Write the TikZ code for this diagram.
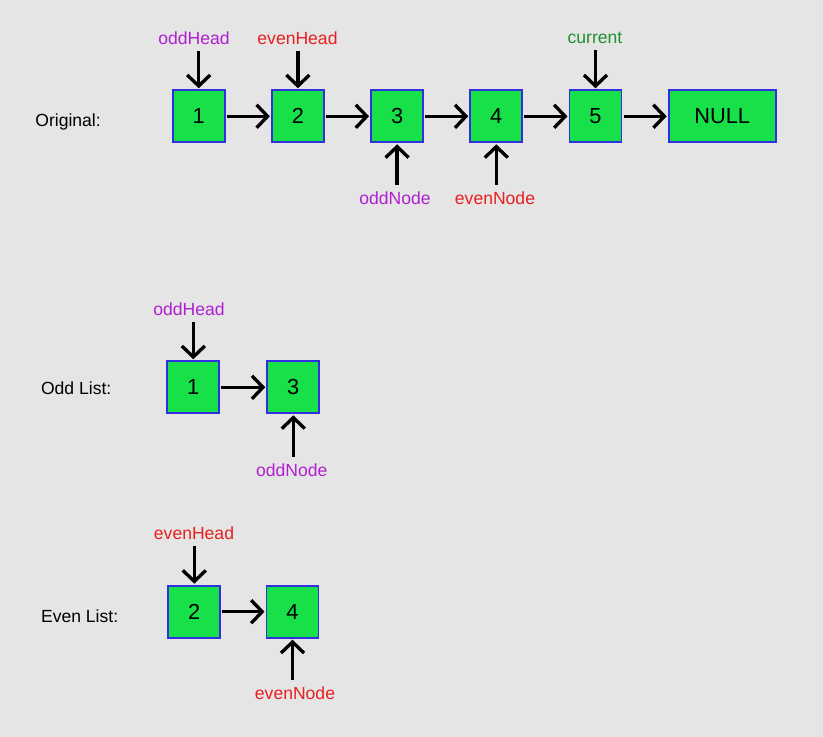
\documentclass[tikz,border=0pt]{standalone}
\usepackage{fontspec}
\setmainfont{Liberation Sans}
\usetikzlibrary{arrows.meta,positioning}
\definecolor{bgGray}{HTML}{E5E5E5}
\definecolor{boxGreen}{HTML}{18E048}
\definecolor{boxBlue}{HTML}{3030E0}
\definecolor{ptrPurple}{HTML}{B020D0}
\definecolor{ptrRed}{HTML}{E82020}
\definecolor{ptrGreen}{HTML}{209030}
\begin{document}
\begin{tikzpicture}[x=0.02cm, y=-0.02cm,
  cell/.style={draw=boxBlue, fill=boxGreen, line width=1.1pt, minimum width=1.04cm,
    minimum height=1.04cm, inner sep=0pt, font=\fontsize{12.4}{14}\selectfont},
  ptr/.style={line width=1.9pt, shorten <=0.6pt, shorten >=0.6pt,
    -{Straight Barb[length=2.2mm, width=4.6mm]}},
  lbl/.style={inner sep=3pt, font=\fontsize{10}{12}\selectfont},
  title/.style={anchor=west, inner sep=0pt, font=\fontsize{10}{12}\selectfont}]
  \fill[bgGray] (0,0) rectangle (823,737);
  % Original list
  \node[title] (origT) at (35,122) {Original:};
  \foreach \i in {1,...,5} {
    \node[cell] (o\i) at ({198.7+99.2*(\i-1)},116.3) {\i};
  }
  \node[cell, minimum width=2.14cm] (null) at (722.2,116.3) {NULL};
  \foreach \a/\b in {o1/o2,o2/o3,o3/o4,o4/o5,o5/null} {
    \draw[ptr] (\a) -- (\b);
  }
  \node[lbl, text=ptrPurple] (oddHeadA) at (194,38) {oddHead};
  \node[lbl, text=ptrRed] (evenHeadA) at (297.5,38) {evenHead};
  \node[lbl, text=ptrGreen] (currentA) at (595,38) {current};
  \node[lbl, text=ptrPurple] (oddNodeA) at (395,198) {oddNode};
  \node[lbl, text=ptrRed] (evenNodeA) at (495,198) {evenNode};
  \draw[ptr] (oddHeadA.south -| o1) -- (o1);
  \draw[ptr] (evenHeadA.south -| o2) -- (o2);
  \draw[ptr] (currentA.south -| o5) -- (o5);
  \draw[ptr] (oddNodeA.north -| o3) -- (o3);
  \draw[ptr] (evenNodeA.north -| o4) -- (o4);
  % Odd list
  \node[title] (oddT) at (40.7,388) {Odd List:};
  \node[cell] (d1) at (193.3,387.3) {1};
  \node[cell] (d3) at (293.3,387.3) {3};
  \draw[ptr] (d1) -- (d3);
  \node[lbl, text=ptrPurple] (oddHeadB) at (189,309) {oddHead};
  \node[lbl, text=ptrPurple] (oddNodeB) at (291.7,470) {oddNode};
  \draw[ptr] (oddHeadB.south -| d1) -- (d1);
  \draw[ptr] (oddNodeB.north -| d3) -- (d3);
  % Even list
  \node[title] (evenT) at (40.7,616) {Even List:};
  \node[cell] (e2) at (194.3,611.7) {2};
  \node[cell] (e4) at (292.5,611.7) {4};
  \draw[ptr] (e2) -- (e4);
  \node[lbl, text=ptrRed] (evenHeadB) at (194,533) {evenHead};
  \node[lbl, text=ptrRed] (evenNodeB) at (295,693) {evenNode};
  \draw[ptr] (evenHeadB.south -| e2) -- (e2);
  \draw[ptr] (evenNodeB.north -| e4) -- (e4);
\end{tikzpicture}
\end{document}
